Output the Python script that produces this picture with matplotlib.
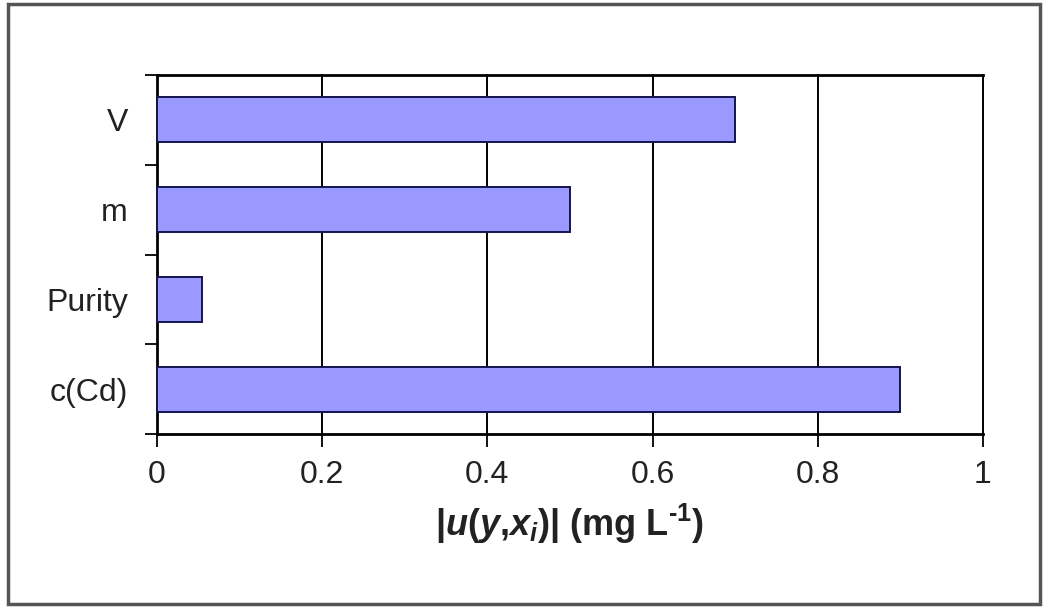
import matplotlib
matplotlib.use("Agg")
import matplotlib.pyplot as plt
from matplotlib.patches import Rectangle
import numpy as np

categories = ["c(Cd)", "Purity", "m", "V"]
values = [0.90, 0.055, 0.50, 0.70]
xticks = [0, 0.2, 0.4, 0.6, 0.8, 1.0]
xticklabels = ["0", "0.2", "0.4", "0.6", "0.8", "1"]

plt.rcParams['font.family'] = ['Liberation Sans', 'DejaVu Sans']
plt.rcParams['mathtext.fontset'] = 'custom'
plt.rcParams['mathtext.rm'] = 'Liberation Sans:bold'
plt.rcParams['mathtext.it'] = 'Liberation Sans:bold:italic'
plt.rcParams['mathtext.bf'] = 'Liberation Sans:bold'

fig = plt.figure(figsize=(10.49, 6.09), dpi=100)
fig.patches.append(Rectangle((8/1049, 1-604/609), (1040-8)/1049, (604-4)/609,
                             transform=fig.transFigure, fill=False,
                             edgecolor='#555555', linewidth=2.5))
ax = fig.add_axes([157/1049, 1-434/609, (983-157)/1049, (434-75)/609])

y = np.arange(len(categories))
ax.barh(y, values, height=0.5, color='#9999FF', edgecolor='#141450', linewidth=1.4, zorder=3)
ax.set_xlim(0, 1)
ax.set_ylim(-0.5, len(categories) - 0.5)

for xv in xticks[1:]:
    ax.axvline(xv, color='black', linewidth=1.4, zorder=1, clip_on=False)

ax.set_xticks(xticks)
ax.set_xticklabels(xticklabels, fontsize=23, color='#222222')
ax.set_yticks(y)
ax.set_yticklabels(categories, fontsize=23, color='#222222')
ax.tick_params(axis='y', which='major', length=0, pad=21)
ax.set_yticks(np.arange(-0.5, len(categories), 1.0), minor=True)
ax.tick_params(axis='y', which='minor', length=9, width=1.3, direction='out')
ax.tick_params(axis='x', length=9, width=1.3, direction='out', pad=10)

for s in ['top', 'left', 'bottom']:
    ax.spines[s].set_linewidth(2)
    ax.spines[s].set_color('black')
ax.spines['right'].set_visible(False)

ax.set_xlabel(r"$|$" + r"$\mathit{u}$" + "(" + r"$\mathit{y}$" + "," + r"$\mathit{x_i}$" + ")" + r"$|$" + " (mg L" + r"$^{\text{-1}}$" + ")",
              fontsize=26, fontweight='bold', labelpad=8, color='#222222')

fig.savefig("out.png", dpi=100)
